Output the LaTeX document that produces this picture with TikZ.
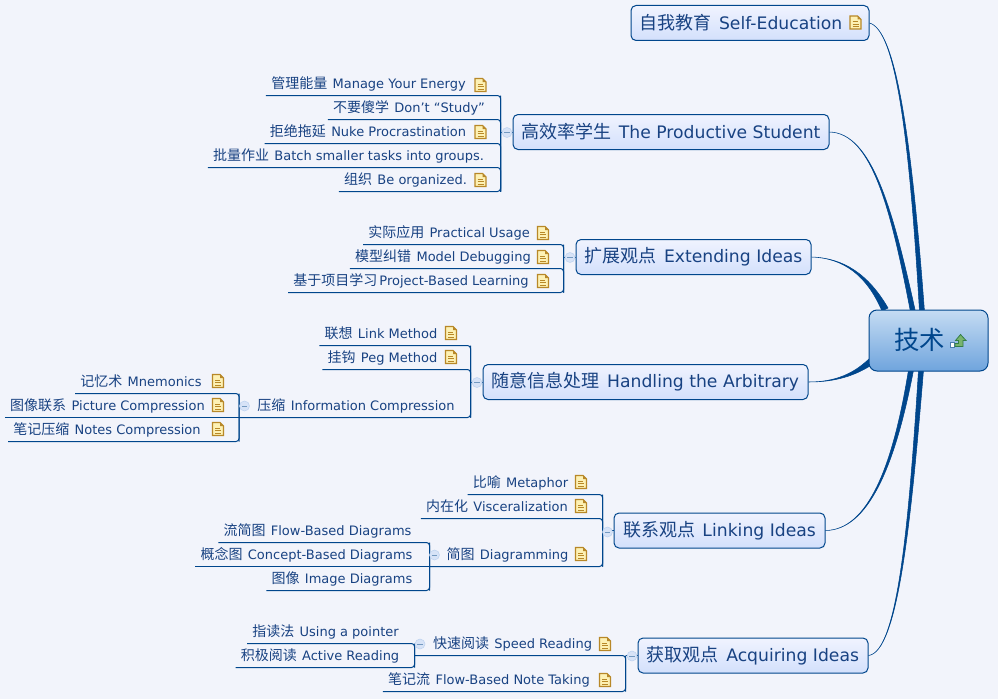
\documentclass[tikz,border=0pt]{standalone}
\usepackage{fontspec}
\setmainfont{DejaVu Sans}
\newfontfamily\cjk{Noto Sans CJK SC}
\newcommand{\leafzh}[1]{{\cjk\fontsize{10.5}{12}\selectfont #1}\hspace{4pt}}
\newcommand{\branchzh}[1]{{\cjk\fontsize{13.5}{15}\selectfont #1}\hspace{5.5pt}}
\definecolor{pagebg}{RGB}{242,244,251}
\definecolor{linenavy}{RGB}{0,70,140}
\definecolor{textnavy}{RGB}{24,66,130}
\definecolor{branchtop}{RGB}{240,243,254}
\definecolor{branchbottom}{RGB}{211,224,252}
\definecolor{roottop}{RGB}{197,220,243}
\definecolor{rootbottom}{RGB}{111,164,221}
\definecolor{foldfill}{RGB}{215,227,247}
\definecolor{folddraw}{RGB}{190,211,240}
\definecolor{notefill}{RGB}{253,241,180}
\definecolor{notedraw}{RGB}{184,136,40}
\definecolor{arrowfill}{RGB}{120,180,110}
\definecolor{arrowdraw}{RGB}{50,125,70}
\tikzset{
  leaf/.style={anchor=south,inner xsep=3.75pt,inner ysep=0pt,text height=8pt,text depth=5pt,text=textnavy,font=\fontsize{9.75}{11}\selectfont},
  branch/.style={draw=linenavy,line width=0.75pt,rounded corners=3.75pt,top color=branchtop,bottom color=branchbottom,minimum height=26.25pt,inner sep=0pt,text=textnavy,font=\fontsize{12.9}{15}\selectfont},
  rootbox/.style={draw=linenavy,line width=0.75pt,rounded corners=6pt,top color=roottop,bottom color=rootbottom,minimum width=89.25pt,minimum height=45.75pt,inner sep=0pt},
  barline/.style={draw=linenavy,line width=0.75pt,rounded corners=2.25pt},
  curve/.style={draw=linenavy,fill=linenavy,line width=0.4pt},
  fold/.style={circle,draw=folddraw,fill=foldfill,minimum size=7.5pt,inner sep=0pt,
    path picture={\draw[linenavy!55,line width=0.5pt] ([xshift=-2pt]path picture bounding box.center) -- ([xshift=2pt]path picture bounding box.center);}},
  noteicon/.pic={
    \draw[draw=notedraw,fill=notefill,line width=0.8pt] (-5.5,-6.5) -- (5.5,-6.5) -- (5.5,3) -- (2,6.5) -- (-5.5,6.5) -- cycle;
    \fill[notedraw] (5.5,3) -- (2,3) -- (2,6.5) -- cycle;
    \draw[notedraw,line width=0.55pt] (-3,-4) -- (3,-4) (-3,-1.5) -- (3,-1.5) (-3,1) -- (2,1);
  }
}
\begin{document}
\begin{tikzpicture}[x=0.75pt,y=0.75pt,yscale=-1,xscale=1]
\fill[pagebg] (0,0) rectangle (998,699);
\useasboundingbox (0,0) rectangle (998,699);

%Branch boxes
\node[branch,minimum width=178.5pt] (selfedu) at (750,23) {\branchzh{自我教育}Self-Education\hspace*{13.5pt}};
\node[branch,minimum width=237pt] (student) at (671,132) {\branchzh{高效率学生}The Productive Student};
\node[branch,minimum width=176.25pt] (extend) at (693.5,257) {\branchzh{扩展观点}Extending Ideas};
\node[branch,minimum width=243.75pt] (arbitrary) at (645.5,382) {\branchzh{随意信息处理}Handling the Arbitrary};
\node[branch,minimum width=158.25pt] (linking) at (719.5,530.5) {\branchzh{联系观点}Linking Ideas};
\node[branch,minimum width=172.5pt] (acquire) at (753,655.5) {\branchzh{获取观点}Acquiring Ideas};

%Curves to the root
\coordinate (selfa) at (919.5,312);
\coordinate (selfb) at (924.5,312);
\coordinate (studenta) at (910.5,312);
\coordinate (studentb) at (915.5,312);
\coordinate (extenda) at (882,311);
\coordinate (extendb) at (888,308);
\coordinate (arbitrarya) at (871,357);
\coordinate (arbitraryb) at (873,364);
\coordinate (linkinga) at (908.5,370);
\coordinate (linkingb) at (913.5,370);
\coordinate (acquirea) at (918.5,370);
\coordinate (acquireb) at (923.5,370);
\filldraw[curve] (selfedu.east) .. controls (895,30) and (909,130) .. (selfa) -- (selfb) .. controls (911,130) and (895,30) .. (selfedu.east);
\filldraw[curve] (student.east) .. controls (872,133) and (891,210) .. (studenta) -- (studentb) .. controls (893,210) and (872,133) .. (student.east);
\filldraw[curve] (extend.east) .. controls (844,258) and (867,276) .. (extenda) -- (extendb) .. controls (868.5,274.5) and (844,258) .. (extend.east);
\filldraw[curve] (arbitrary.east) .. controls (835,382) and (854,374) .. (arbitrarya) -- (arbitraryb) .. controls (855,376) and (835,382) .. (arbitrary.east);
\filldraw[curve] (linking.east) .. controls (868,530) and (893,466) .. (linkinga) -- (linkingb) .. controls (895,467) and (868,530) .. (linking.east);
\filldraw[curve] (acquire.east) .. controls (898,652) and (909,521) .. (acquirea) -- (acquireb) .. controls (911,522) and (898,652) .. (acquire.east);

\node[rootbox] (root) at (928.5,340.5) {};
\node[inner sep=0pt,text=linenavy,font=\cjk\fontsize{19}{21}\selectfont] (roottext) at (919.5,340) {技术};
%Root icon
\fill[white] (950.5,342.5) rectangle (954,347);
\draw[draw=linenavy!70,line width=0.6pt] (950.5,342.5) rectangle (954,347);
\draw[draw=arrowdraw,fill=arrowfill,line width=0.6pt] (960.5,334.5) -- (966,340.5) -- (963,340.5) -- (963,346.5) -- (955,346.5) -- (955,343.5) -- (958.5,343.5) -- (958.5,340.5) -- (955.5,340.5) -- cycle;

%Student leaves
\node[leaf] (energy) at (368.5,95.5) {\leafzh{管理能量}Manage Your Energy};
\node[leaf] (study) at (409,119.5) {\leafzh{不要傻学}Don't “Study”};
\node[leaf] (nuke) at (368,143.5) {\leafzh{拒绝拖延}Nuke Procrastination};
\node[leaf] (batch) at (348.5,167.5) {\leafzh{批量作业}Batch smaller tasks into groups.};
\node[leaf] (organized) at (405.5,191.5) {\leafzh{组织}Be organized.};
\coordinate (studentcol) at (500.5,143.5);
\draw[barline] (energy.south west) -| (studentcol |- organized.south);
\draw[barline] (study.south west) -| (studentcol |- organized.south);
\draw[barline] (nuke.south west) -| (studentcol |- organized.south);
\draw[barline] (batch.south west) -| (studentcol |- organized.south);
\draw[barline] (organized.south west) -| (studentcol |- energy.south);
\draw[barline] (studentcol |- student.west) -- (student.west);
\node[fold] (studentfold) at (507,132.5) {};
\pic at (480.5,85) {noteicon};
\pic at (480.5,132) {noteicon};
\pic at (480.5,180) {noteicon};

%Extending leaves
\node[leaf] (usage) at (449,244.5) {\leafzh{实际应用}Practical Usage};
\node[leaf] (debug) at (443,268.5) {\leafzh{模型纠错}Model Debugging};
\node[leaf] (project) at (411,292.5) {{\cjk\fontsize{10.5}{12}\selectfont 基于项目学习}\hspace{1.5pt}Project-Based Learning};
\coordinate (extendcol) at (563.5,268.5);
\draw[barline] (usage.south west) -| (extendcol |- project.south);
\draw[barline] (debug.south west) -| (extendcol |- project.south);
\draw[barline] (project.south west) -| (extendcol |- usage.south);
\draw[barline] (extendcol |- extend.west) -- (extend.west);
\node[fold] (extendfold) at (570,257.5) {};
\pic at (543,233) {noteicon};
\pic at (543,257) {noteicon};
\pic at (543,281) {noteicon};

%Arbitrary leaves
\node[leaf] (linkm) at (381,345.5) {\leafzh{联想}Link Method};
\node[leaf] (pegm) at (382.5,369.5) {\leafzh{挂钩}Peg Method};
\node[leaf] (infocomp) at (356,417.5) {\leafzh{压缩}Information Compression};
\node[leaf] (mnemonics) at (141,393.5) {\leafzh{记忆术}Mnemonics};
\node[leaf] (picturecomp) at (107.5,417.5) {\leafzh{图像联系}Picture Compression};
\node[leaf] (notescomp) at (107,441.5) {\leafzh{笔记压缩}Notes Compression};
\coordinate (arbitrarycol) at (470.5,382);
\coordinate (infocol) at (239,417);
\draw[barline] (linkm.south west) -| (arbitrarycol |- infocomp.south);
\draw[barline] (pegm.south west) -| (arbitrarycol |- infocomp.south);
\draw[barline] (infocol |- infocomp.south) -| (arbitrarycol |- linkm.south);
\draw[barline] (arbitrarycol |- arbitrary.west) -- (arbitrary.west);
\draw[barline] (mnemonics.south west) -| (infocol |- notescomp.south);
\draw[barline] (picturecomp.south west) -- (infocol |- picturecomp.south);
\draw[barline] (notescomp.south west) -| (infocol |- mnemonics.south);
\node[fold] (arbitraryfold) at (477,382.5) {};
\node[fold] (infofold) at (244.5,406) {};
\pic at (451,333) {noteicon};
\pic at (451,357) {noteicon};
\pic at (218,381) {noteicon};
\pic at (218,405) {noteicon};
\pic at (218,429) {noteicon};

%Linking leaves
\node[leaf] (metaphor) at (520.5,494.5) {\leafzh{比喻}Metaphor};
\node[leaf] (viscera) at (497,518.5) {\leafzh{内在化}Visceralization};
\node[leaf] (diagramming) at (507.5,566.5) {\leafzh{简图}Diagramming};
\node[leaf] (flowdiag) at (317.5,542.5) {\leafzh{流简图}Flow-Based Diagrams};
\node[leaf] (conceptdiag) at (306.5,566.5) {\leafzh{概念图}Concept-Based Diagrams};
\node[leaf] (imagediag) at (342,590.5) {\leafzh{图像}Image Diagrams};
\coordinate (linkingcol) at (602.5,530);
\coordinate (diagramcol) at (429.5,566);
\draw[barline] (metaphor.south west) -| (linkingcol |- diagramming.south);
\draw[barline] (viscera.south west) -| (linkingcol |- diagramming.south);
\draw[barline] (diagramcol |- diagramming.south) -| (linkingcol |- metaphor.south);
\draw[barline] (linkingcol |- linking.west) -- (linking.west);
\draw[barline] (flowdiag.south west) -| (diagramcol |- imagediag.south);
\draw[barline] (conceptdiag.south west) -- (diagramcol |- conceptdiag.south);
\draw[barline] (imagediag.south west) -| (diagramcol |- flowdiag.south);
\node[fold] (linkingfold) at (607.5,532) {};
\node[fold] (diagramfold) at (434.5,555) {};
\pic at (581,482) {noteicon};
\pic at (581,506) {noteicon};
\pic at (581,554) {noteicon};

%Acquiring leaves
\node[leaf] (speed) at (512.5,655.5) {\leafzh{快速阅读}Speed Reading};
\node[leaf] (flownote) at (489,691.5) {\leafzh{笔记流}Flow-Based Note Taking};
\node[leaf] (pointer) at (325.5,643.5) {\leafzh{指读法}Using a pointer};
\node[leaf] (active) at (320,667.5) {\leafzh{积极阅读}Active Reading};
\coordinate (acquirecol) at (625.5,655);
\coordinate (speedcol) at (414.5,655);
\draw[barline] (speedcol |- speed.south) -| (acquirecol |- flownote.south);
\draw[barline] (flownote.south west) -| (acquirecol |- speed.south);
\draw[barline] (acquirecol |- acquire.west) -- (acquire.west);
\draw[barline] (pointer.south west) -| (speedcol |- active.south);
\draw[barline] (active.south west) -| (speedcol |- pointer.south);
\node[fold] (acquirefold) at (632,656) {};
\node[fold] (speedfold) at (420,644) {};
\pic at (605,644) {noteicon};
\pic at (605,680) {noteicon};
\pic at (855.5,22.5) {noteicon};

\end{tikzpicture}
\end{document}
